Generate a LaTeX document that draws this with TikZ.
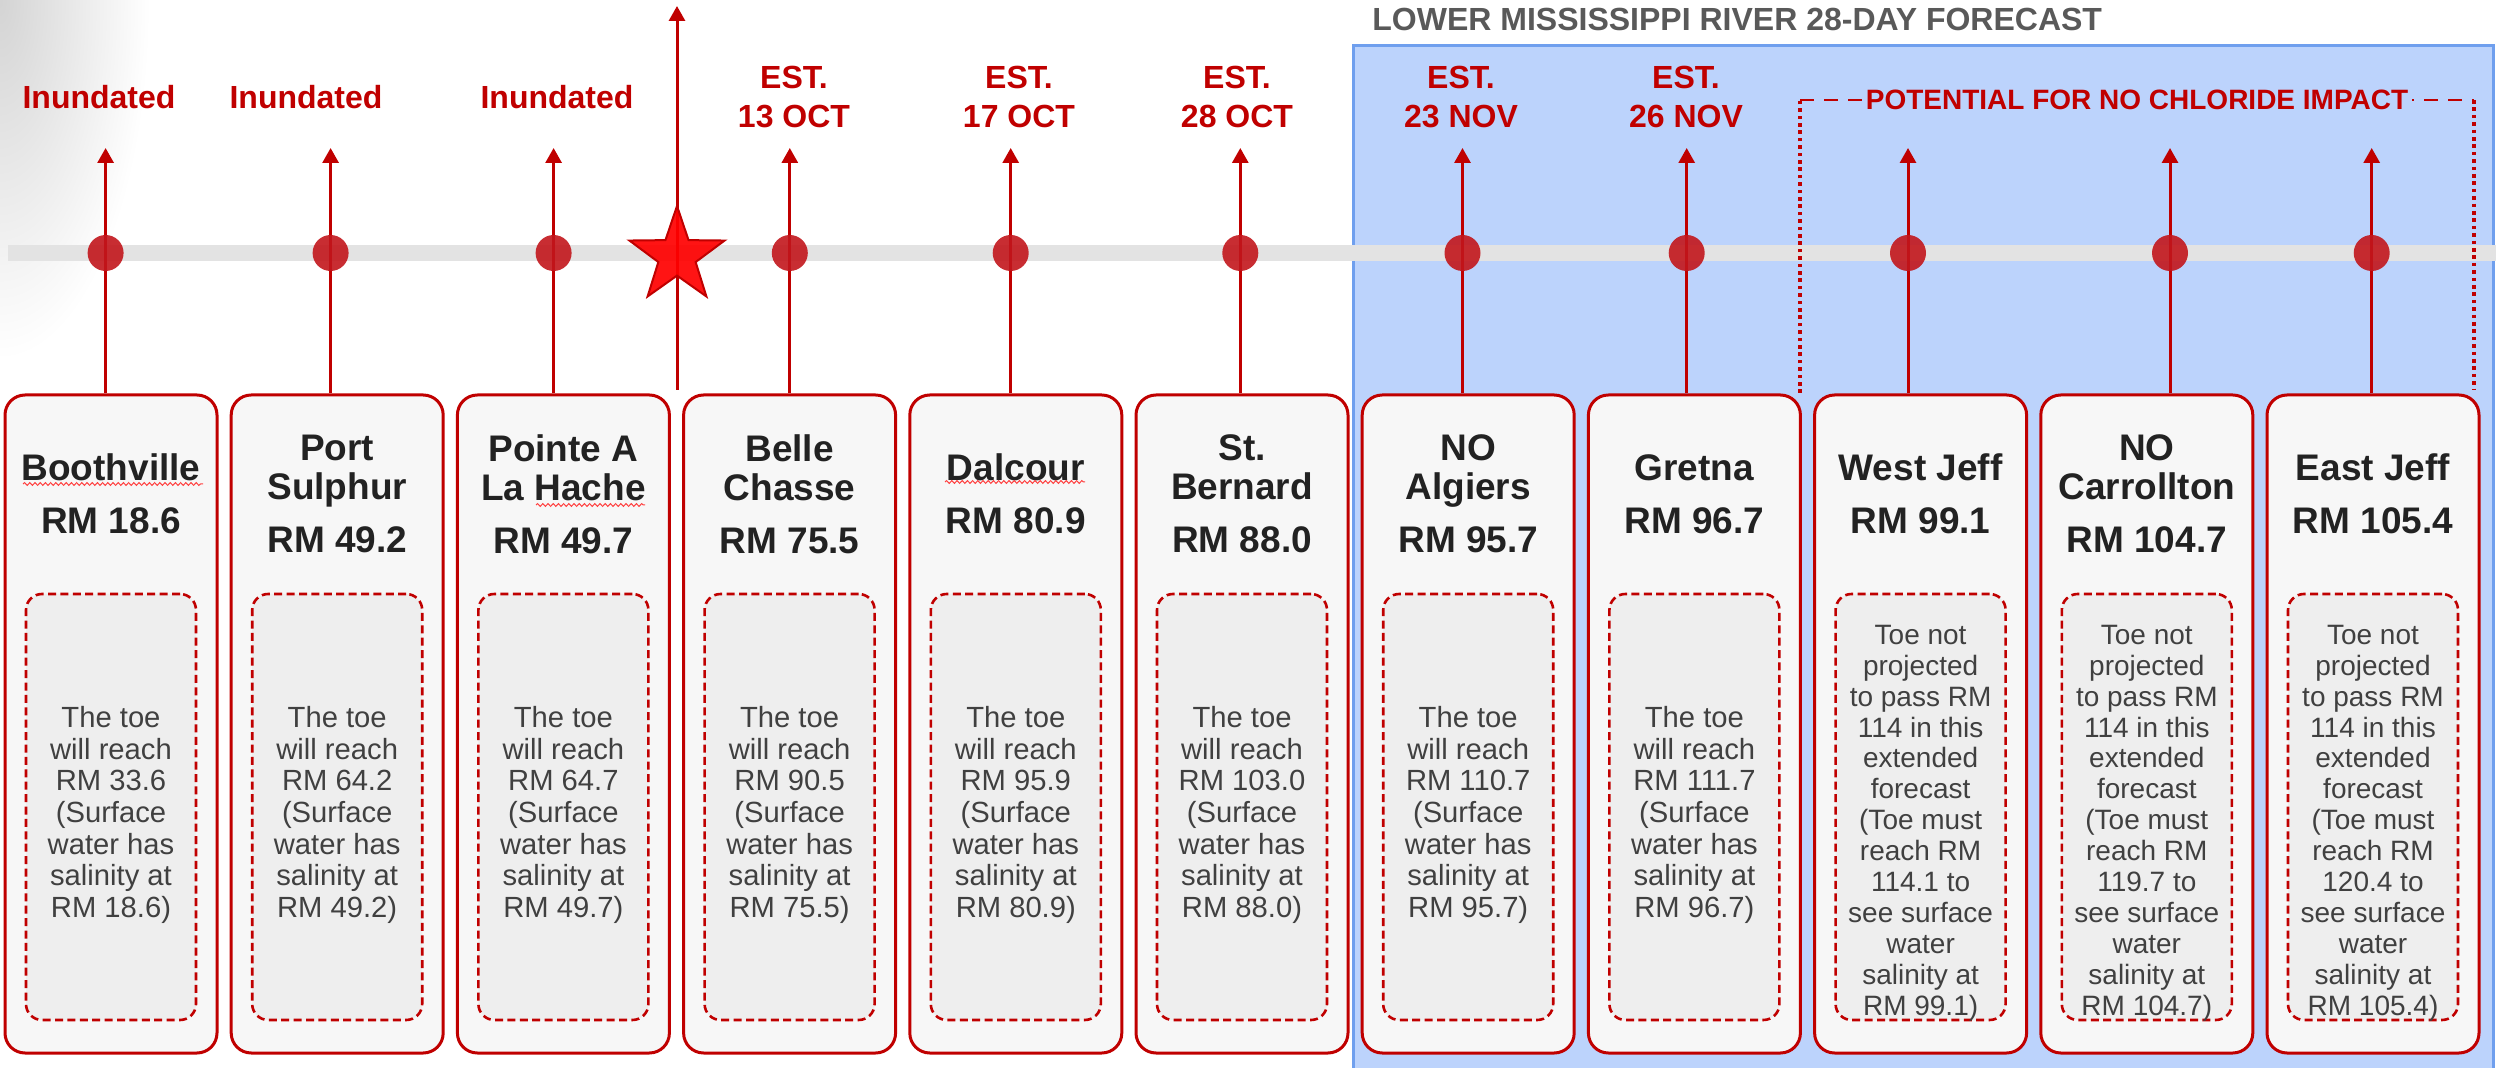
\documentclass[tikz,border=0pt]{standalone}
\usepackage{fontspec}
\setmainfont{Liberation Sans}
\usetikzlibrary{shapes.geometric, arrows.meta, positioning, decorations.pathmorphing}

\definecolor{darkred}{HTML}{C00000}
\definecolor{dotred}{HTML}{C2161C}
\definecolor{cardfill}{HTML}{F7F7F7}
\definecolor{notefill}{HTML}{EEEEEE}
\definecolor{forecastblue}{HTML}{BCD3FC}
\definecolor{forecastedge}{HTML}{6F9FEE}
\definecolor{riverbar}{HTML}{E3E3E3}
\definecolor{headgray}{HTML}{595959}
\definecolor{titlegray}{HTML}{222222}
\definecolor{notegray}{HTML}{404040}

\newcommand{\toereach}[2]{The toe\\will reach\\RM #1\\(Surface\\water has\\salinity at\\RM #2)}
\newcommand{\toenot}[2]{Toe not\\projected\\to pass RM\\114 in this\\extended\\forecast\\(Toe must\\reach RM\\#1 to\\see surface\\water\\salinity at\\RM #2)}

\tikzset{
  station/.style={draw=darkred, line width=1.5pt, rounded corners=10pt, fill=cardfill, minimum width=106pt, minimum height=329pt, inner sep=0pt},
  notebox/.style={draw=darkred, line width=1.3pt, dash pattern=on 4pt off 2.2pt, rounded corners=8pt, fill=notefill, minimum width=85pt, minimum height=213pt, inner sep=0pt},
  stationname/.style={align=center, text=titlegray, inner sep=0pt, font=\bfseries\fontsize{18.5}{19.5}\selectfont},
  notetext/.style={align=center, text=notegray, inner sep=0pt, font=\fontsize{14.6}{15.85}\selectfont},
  smallnote/.style={notetext, font=\fontsize{14}{15.45}\selectfont},
  datelabel/.style={align=center, text=darkred, inner sep=0pt, font=\bfseries\fontsize{16}{19.5}\selectfont},
  riser/.style={draw=darkred, line width=1.5pt, -{Triangle[length=7.5pt, width=8pt]}},
  gauge/.style={circle, fill=dotred, fill opacity=0.9, minimum size=18pt, inner sep=0pt},
  bracketdots/.style={draw=darkred, line width=1.7pt, dash pattern=on 1.8pt off 1.9pt},
  spellwave/.style={draw=red!75, line width=0.5pt, decorate, decoration={snake, amplitude=0.7pt, segment length=2.6pt}},
}

\begin{document}
\begin{tikzpicture}[x=0.5pt, y=-0.5pt]
\useasboundingbox (0,0) rectangle (2496,1068);
% slide shadow in the corner
\shade[inner color=black!17, outer color=white] (0,0) ellipse [x radius=150, y radius=360];

% forecast window
\fill[forecastblue] (1353,46) rectangle (2493,1090);
\draw[forecastedge, line width=1.5pt] (1353,1090) -- (1353,46) -- (2493,46) -- (2493,1090);
\node[anchor=west, text=headgray, inner sep=0pt, font=\bfseries\fontsize{16}{18}\selectfont] (header) at (1372,19) {LOWER MISSISSIPPI RIVER 28-DAY FORECAST};

% river line
\fill[riverbar] (8,245) rectangle (2496,261);

% no chloride bracket
\coordinate (bl) at (1800,393);
\coordinate (tl) at (1800,100);
\coordinate (tr) at (2474,100);
\coordinate (br) at (2474,390);
\draw[bracketdots] (bl) -- (tl);
\draw[bracketdots] (tr) -- (br);
\draw[darkred, line width=1.3pt, dash pattern=on 7pt off 5pt] (tl) -- (tr);
\node[fill=forecastblue, text=darkred, inner xsep=2pt, inner ysep=1pt, font=\bfseries\fontsize{14}{16}\selectfont] (nochloride) at (2137,100) {POTENTIAL FOR NO CHLORIDE IMPACT};

% stations
\foreach \ax/\name/\rm/\note/\nstyle/\ny [count=\n] in {
  105.6/Boothville/18.6/{\toereach{33.6}{18.6}}/notetext/815,
  330.6/{Port\\Sulphur}/49.2/{\toereach{64.2}{49.2}}/notetext/815,
  553.6/{Pointe A\\La Hache}/49.7/{\toereach{64.7}{49.7}}/notetext/815,
  789.8/{Belle\\Chasse}/75.5/{\toereach{90.5}{75.5}}/notetext/815,
  1010.7/Dalcour/80.9/{\toereach{95.9}{80.9}}/notetext/815,
  1240.3/{St.\\Bernard}/88.0/{\toereach{103.0}{88.0}}/notetext/815,
  1462.5/{NO\\Algiers}/95.7/{\toereach{110.7}{95.7}}/notetext/815,
  1686.7/Gretna/96.7/{\toereach{111.7}{96.7}}/notetext/815,
  1908/West Jeff/99.1/{\toenot{114.1}{99.1}}/smallnote/823,
  2170/{NO\\Carrollton}/104.7/{\toenot{119.7}{104.7}}/smallnote/823,
  2371.7/East Jeff/105.4/{\toenot{120.4}{105.4}}/smallnote/823}{
  \pgfmathsetmacro{\cx}{111+226.2*(\n-1)}
  \node[station] (station\n) at (\cx,724) {};
  \node[notebox] (note\n) at (\cx,807) {};
  \node[\nstyle] (notetext\n) at (\cx,\ny) {\note};
  \node[stationname] (name\n) at (\cx,494) {\name\\[7pt]RM \rm};
  \coordinate (tip\n) at (\ax,148);
  \draw[riser] (station\n.north -| tip\n) -- (tip\n);
  \node[gauge] (gauge\n) at (\ax,253) {};
}

% spell check marks
\draw[spellwave] (23,484) -- (203,484);
\draw[spellwave] (536,505) -- (645,505);
\draw[spellwave] (945,482) -- (1085,482);

% today
\coordinate (starfoot) at (677,390);
\coordinate (startip) at (677,6);
\draw[riser] (starfoot) -- (startip);
\node[star, star points=5, star point ratio=2.55, minimum size=50pt, inner sep=0pt, fill=red, fill opacity=0.92, draw=darkred, line width=1pt] (today) at (677,256) {};

% dates
\foreach \lx/\lab [count=\n] in {99/Inundated, 306/Inundated, 557/Inundated,
  794/{EST.\\13 OCT}, 1019/{EST.\\17 OCT}, 1237/{EST.\\28 OCT},
  1461/{EST.\\23 NOV}, 1686/{EST.\\26 NOV}}
  \node[datelabel] (date\n) at (\lx,97) {\lab};
\end{tikzpicture}
\end{document}
